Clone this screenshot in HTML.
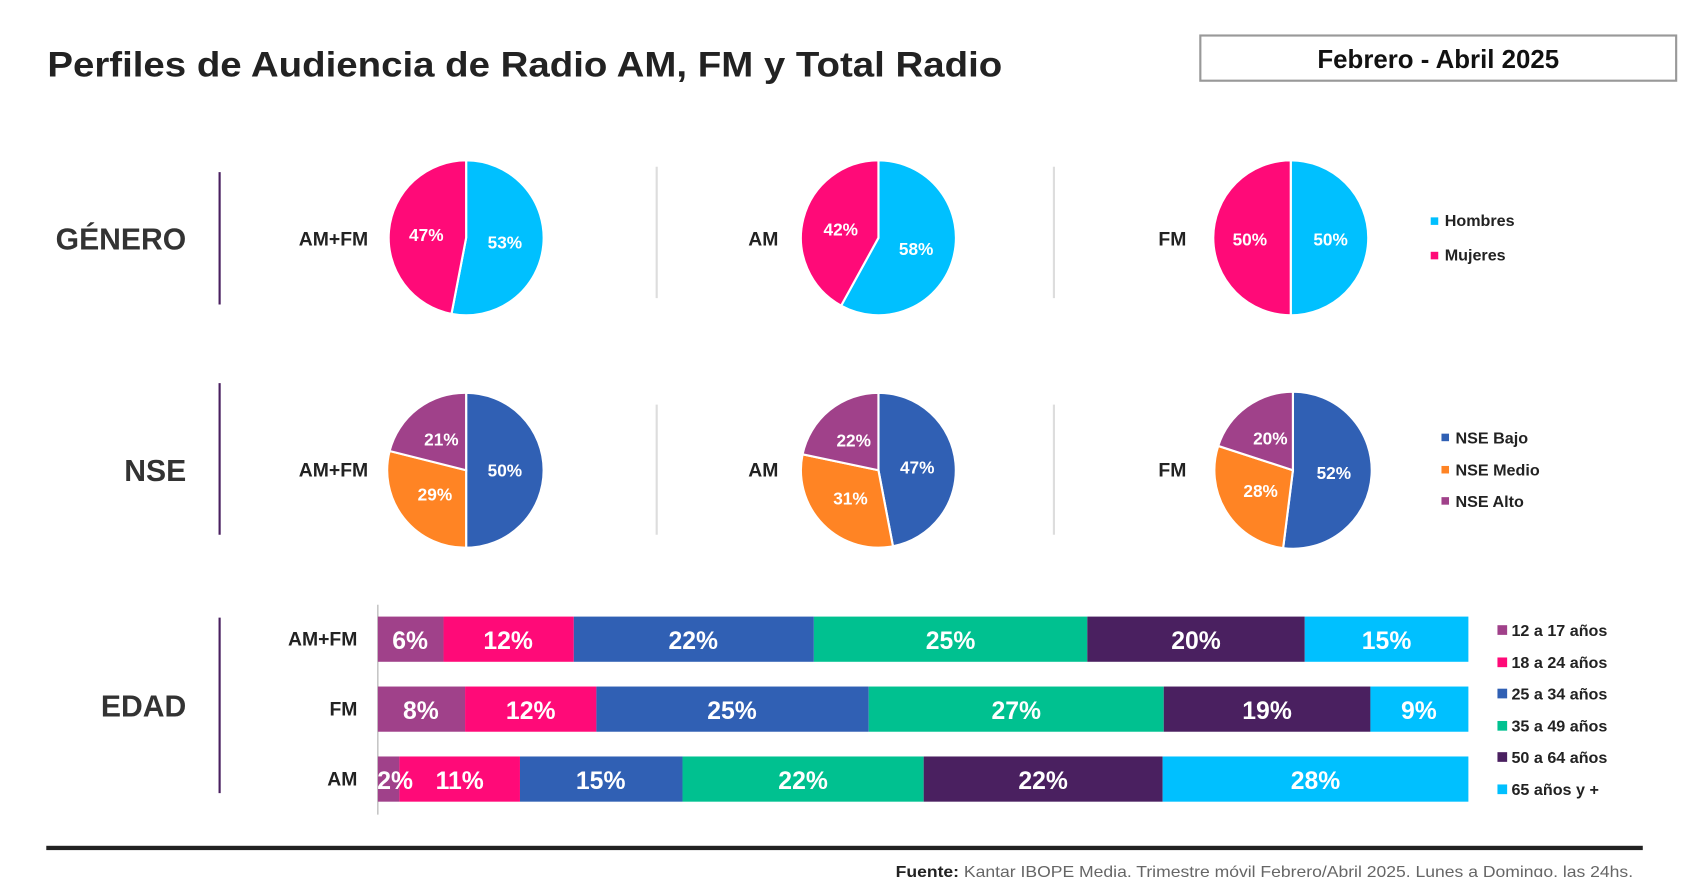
<!DOCTYPE html>
<html><head><meta charset="utf-8"><style>
html,body{margin:0;padding:0;background:#fff;}
svg{display:block;font-family:"Liberation Sans",sans-serif;}
</style></head><body>
<svg width="1688" height="877" viewBox="0 0 1568 815" preserveAspectRatio="none">
<text x="44" y="71" font-size="33" font-weight="bold" fill="#222" textLength="887" lengthAdjust="spacingAndGlyphs">Perfiles de Audiencia de Radio AM, FM y Total Radio</text>
<rect x="1115" y="33" width="442" height="42" fill="#fff" stroke="#999" stroke-width="2"/>
<text x="1336" y="63" font-size="24" font-weight="bold" text-anchor="middle" fill="#111">Febrero - Abril 2025</text>

<g stroke="#4a2060" stroke-width="2">
<line x1="204" y1="160" x2="204" y2="283"/><line x1="204" y1="356" x2="204" y2="497"/><line x1="204" y1="574" x2="204" y2="737"/>
</g>
<g stroke="#ddd" stroke-width="2">
<line x1="610" y1="155" x2="610" y2="277"/><line x1="979" y1="155" x2="979" y2="277"/>
<line x1="610" y1="376" x2="610" y2="497"/><line x1="979" y1="376" x2="979" y2="497"/>
</g>
<line x1="351" y1="562" x2="351" y2="757" stroke="#aaa" stroke-width="1"/>

<g font-weight="bold" fill="#333" text-anchor="end">
<text x="173" y="232" font-size="28">GÉNERO</text>
<text x="173" y="447" font-size="28">NSE</text>
<text x="173" y="666" font-size="28">EDAD</text>
<g font-size="18" fill="#222">
<text x="342" y="228">AM+FM</text><text x="723" y="228">AM</text><text x="1102" y="228">FM</text>
<text x="342" y="443">AM+FM</text><text x="723" y="443">AM</text><text x="1102" y="443">FM</text>
<text x="332" y="600">AM+FM</text><text x="332" y="665">FM</text><text x="332" y="730">AM</text>
</g></g>

<g id="pies" stroke="#fff" stroke-width="2">
<path d="M433,221 L433,149 A72,72 0 1 1 419.4,291.7 Z" fill="#00C0FF"/>
<path d="M433,221 L419.4,291.7 A72,72 0 0 1 433,149 Z" fill="#FF0A78"/>
<path d="M816,221 L816,149 A72,72 0 1 1 781.3,284.1 Z" fill="#00C0FF"/>
<path d="M816,221 L781.3,284.1 A72,72 0 0 1 816,149 Z" fill="#FF0A78"/>
<path d="M1199,221 L1199,149 A72,72 0 0 1 1199,293 Z" fill="#00C0FF"/>
<path d="M1199,221 L1199,293 A72,72 0 0 1 1199,149 Z" fill="#FF0A78"/>
<path d="M433,437 L433,365 A72,72 0 0 1 433,509 Z" fill="#3060B4"/>
<path d="M433,437 L433,509 A72,72 0 0 1 361.9,419.1 Z" fill="#FF8424"/>
<path d="M433,437 L361.9,419.1 A72,72 0 0 1 433,365 Z" fill="#A0418A"/>
<path d="M816,437 L816,365 A72,72 0 0 1 829.5,507.7 Z" fill="#3060B4"/>
<path d="M816,437 L829.5,507.7 A72,72 0 0 1 745.5,422.2 Z" fill="#FF8424"/>
<path d="M816,437 L745.5,422.2 A72,72 0 0 1 816,365 Z" fill="#A0418A"/>
<path d="M1201,437 L1201,364 A73,73 0 1 1 1191.9,509.4 Z" fill="#3060B4"/>
<path d="M1201,437 L1191.9,509.4 A73,73 0 0 1 1131.6,414.4 Z" fill="#FF8424"/>
<path d="M1201,437 L1131.6,414.4 A73,73 0 0 1 1201,364 Z" fill="#A0418A"/>
</g>
<g font-size="16" font-weight="bold" fill="#fff" text-anchor="middle">
<text x="396" y="224">47%</text><text x="469" y="231">53%</text>
<text x="781" y="219">42%</text><text x="851" y="237">58%</text>
<text x="1161" y="228">50%</text><text x="1236" y="228">50%</text>
<text x="410" y="414">21%</text><text x="469" y="443">50%</text><text x="404" y="465">29%</text>
<text x="793" y="415">22%</text><text x="852" y="440">47%</text><text x="790" y="469">31%</text>
<text x="1180" y="413">20%</text><text x="1239" y="445">52%</text><text x="1171" y="462">28%</text>
</g>

<g font-size="15" font-weight="bold" fill="#222">
<rect x="1329" y="202" width="7" height="7" fill="#00C0FF"/><text x="1342" y="210">Hombres</text>
<rect x="1329" y="234" width="7" height="7" fill="#FF0A78"/><text x="1342" y="242">Mujeres</text>
<rect x="1339" y="403" width="7" height="7" fill="#3060B4"/><text x="1352" y="412">NSE Bajo</text>
<rect x="1339" y="433" width="7" height="7" fill="#FF8424"/><text x="1352" y="442">NSE Medio</text>
<rect x="1339" y="462" width="7" height="7" fill="#A0418A"/><text x="1352" y="471">NSE Alto</text>
<rect x="1391" y="581" width="9" height="9" fill="#A0418A"/><text x="1404" y="591">12 a 17 años</text>
<rect x="1391" y="611" width="9" height="9" fill="#FF0A78"/><text x="1404" y="621">18 a 24 años</text>
<rect x="1391" y="640" width="9" height="9" fill="#3060B4"/><text x="1404" y="650">25 a 34 años</text>
<rect x="1391" y="670" width="9" height="9" fill="#00C190"/><text x="1404" y="680">35 a 49 años</text>
<rect x="1391" y="699" width="9" height="9" fill="#4A2060"/><text x="1404" y="709">50 a 64 años</text>
<rect x="1391" y="729" width="9" height="9" fill="#00C0FF"/><text x="1404" y="739">65 años y +</text>
</g>

<g>
<rect x="351" y="573" width="61" height="42" fill="#A0418A"/><rect x="412" y="573" width="121" height="42" fill="#FF0A78"/><rect x="533" y="573" width="223" height="42" fill="#3060B4"/><rect x="756" y="573" width="254" height="42" fill="#00C190"/><rect x="1010" y="573" width="202" height="42" fill="#4A2060"/><rect x="1212" y="573" width="152" height="42" fill="#00C0FF"/>
<rect x="351" y="638" width="81" height="42" fill="#A0418A"/><rect x="432" y="638" width="122" height="42" fill="#FF0A78"/><rect x="554" y="638" width="253" height="42" fill="#3060B4"/><rect x="807" y="638" width="274" height="42" fill="#00C190"/><rect x="1081" y="638" width="192" height="42" fill="#4A2060"/><rect x="1273" y="638" width="91" height="42" fill="#00C0FF"/>
<rect x="351" y="703" width="20" height="42" fill="#A0418A"/><rect x="371" y="703" width="112" height="42" fill="#FF0A78"/><rect x="483" y="703" width="151" height="42" fill="#3060B4"/><rect x="634" y="703" width="224" height="42" fill="#00C190"/><rect x="858" y="703" width="222" height="42" fill="#4A2060"/><rect x="1080" y="703" width="284" height="42" fill="#00C0FF"/>
</g>
<g font-size="23" font-weight="bold" fill="#fff" text-anchor="middle">
<text x="381" y="603">6%</text><text x="472" y="603">12%</text><text x="644" y="603">22%</text><text x="883" y="603">25%</text><text x="1111" y="603">20%</text><text x="1288" y="603">15%</text>
<text x="391" y="668">8%</text><text x="493" y="668">12%</text><text x="680" y="668">25%</text><text x="944" y="668">27%</text><text x="1177" y="668">19%</text><text x="1318" y="668">9%</text>
<text x="367" y="733">2%</text><text x="427" y="733">11%</text><text x="558" y="733">15%</text><text x="746" y="733">22%</text><text x="969" y="733">22%</text><text x="1222" y="733">28%</text>
</g>

<rect x="43" y="786" width="1483" height="4" fill="#222"/>
<text x="832" y="815" font-size="15" fill="#666" textLength="685" lengthAdjust="spacingAndGlyphs"><tspan font-weight="bold" fill="#222">Fuente:</tspan> Kantar IBOPE Media. Trimestre móvil Febrero/Abril 2025. Lunes a Domingo, las 24hs.</text>
</svg>
</body></html>
